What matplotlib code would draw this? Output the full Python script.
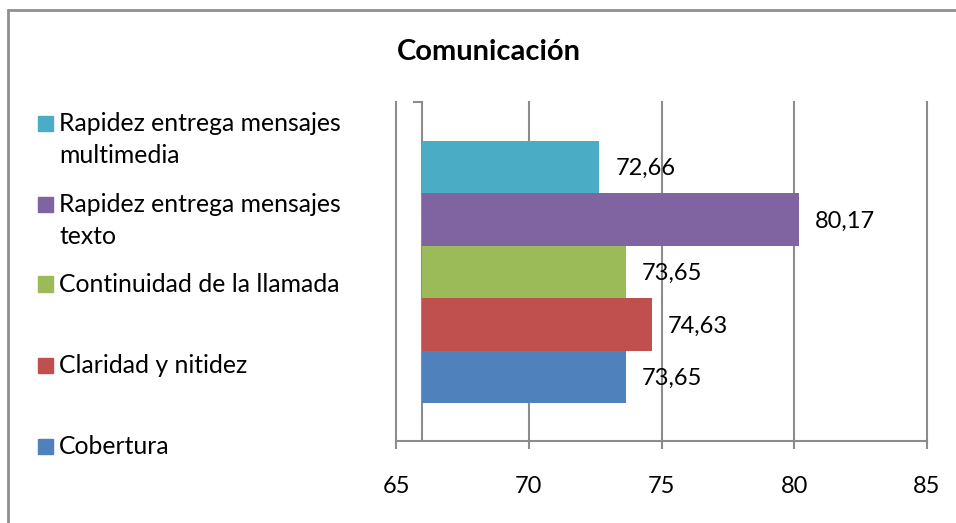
import matplotlib
matplotlib.use("Agg")
import matplotlib.pyplot as plt
from matplotlib.patches import Rectangle

# ---- data (bottom to top, as drawn) ----
categories = ["Cobertura", "Claridad y nitidez", "Continuidad de la llamada",
              "Rapidez entrega mensajes texto", "Rapidez entrega mensajes multimedia"]
legend_lines = [["Cobertura"], ["Claridad y nitidez"], ["Continuidad de la llamada"],
                ["Rapidez entrega mensajes", "texto"],
                ["Rapidez entrega mensajes", "multimedia"]]
values = [73.65, 74.63, 73.65, 80.17, 72.66]
value_labels = ["73,65", "74,63", "73,65", "80,17", "72,66"]
colors = ["#4F81BD", "#C0504D", "#9BBB59", "#8064A2", "#4BACC6"]
xticks = [65, 70, 75, 80, 85]
title = "Comunicación"

FONT = "Lato"
plt.rcParams["font.family"] = [FONT, "DejaVu Sans"]

W, H = 956, 523
fig = plt.figure(figsize=(W / 100, H / 100), dpi=100)

def fx(px):
    return px / W

def fy(py):
    return 1 - py / H

GRAY = "#8C8C8C"

# chart border
fig.patches.append(Rectangle((fx(8), fy(600)), fx(1000), fy(10) - fy(600),
                             transform=fig.transFigure, fill=False,
                             edgecolor="#8F8F8F", lw=2, zorder=0))

ax = fig.add_axes([fx(396), fy(441), fx(927) - fx(396), fy(102) - fy(441)])
ax.set_xlim(65, 85)
ax.set_ylim(-1.22, 5.24)

base = 65.98  # depth offset of the 3D back wall
y = list(range(len(values)))
ax.barh(y, [v - base for v in values], left=base, height=1.0, color=colors, zorder=3)

for yi, v, lab in zip(y, values, value_labels):
    ax.annotate(lab, (v, yi), xytext=(11.5, -1), textcoords="offset points",
                ha="left", va="center", fontsize=17, color="black", zorder=5)

# grid/axis styling
ax.set_xticks(xticks)
ax.set_xticklabels([str(t) for t in xticks], fontsize=17)
ax.set_yticks([])
ax.tick_params(axis="x", direction="out", length=6, width=1.5, color=GRAY, pad=19)
for s in ["top", "right", "left"]:
    ax.spines[s].set_visible(False)
ax.spines["bottom"].set_color(GRAY)
ax.spines["bottom"].set_linewidth(1.5)
ax.xaxis.grid(True, color=GRAY, lw=1.5, zorder=1)
for gl in ax.get_xgridlines():
    gl.set_clip_on(False)
ax.set_axisbelow(True)

# back wall edge
ax.axvline(base, color=GRAY, lw=1.5, zorder=2)
ax.plot([65.66, base], [5.24, 5.24], color=GRAY, lw=1.5, clip_on=False, zorder=2)

# title
fig.text(fx(489), fy(52), title, ha="center", va="center", fontsize=21,
         fontweight="bold")

# legend (top to bottom)
row_centers = [123, 204, 284, 365, 446]
for i, (lines, c) in enumerate(zip(legend_lines[::-1], colors[::-1])):
    cy = row_centers[i]
    fig.patches.append(Rectangle((fx(38), fy(cy + 7.5)), fx(15), fy(cy - 7.5) - fy(cy + 7.5),
                                 transform=fig.transFigure, color=c))
    for k, line in enumerate(lines):
        fig.text(fx(59), fy(cy + 8 + 32 * k), line, ha="left", va="baseline",
                 fontsize=17.8)

fig.savefig("out.png", dpi=100)
